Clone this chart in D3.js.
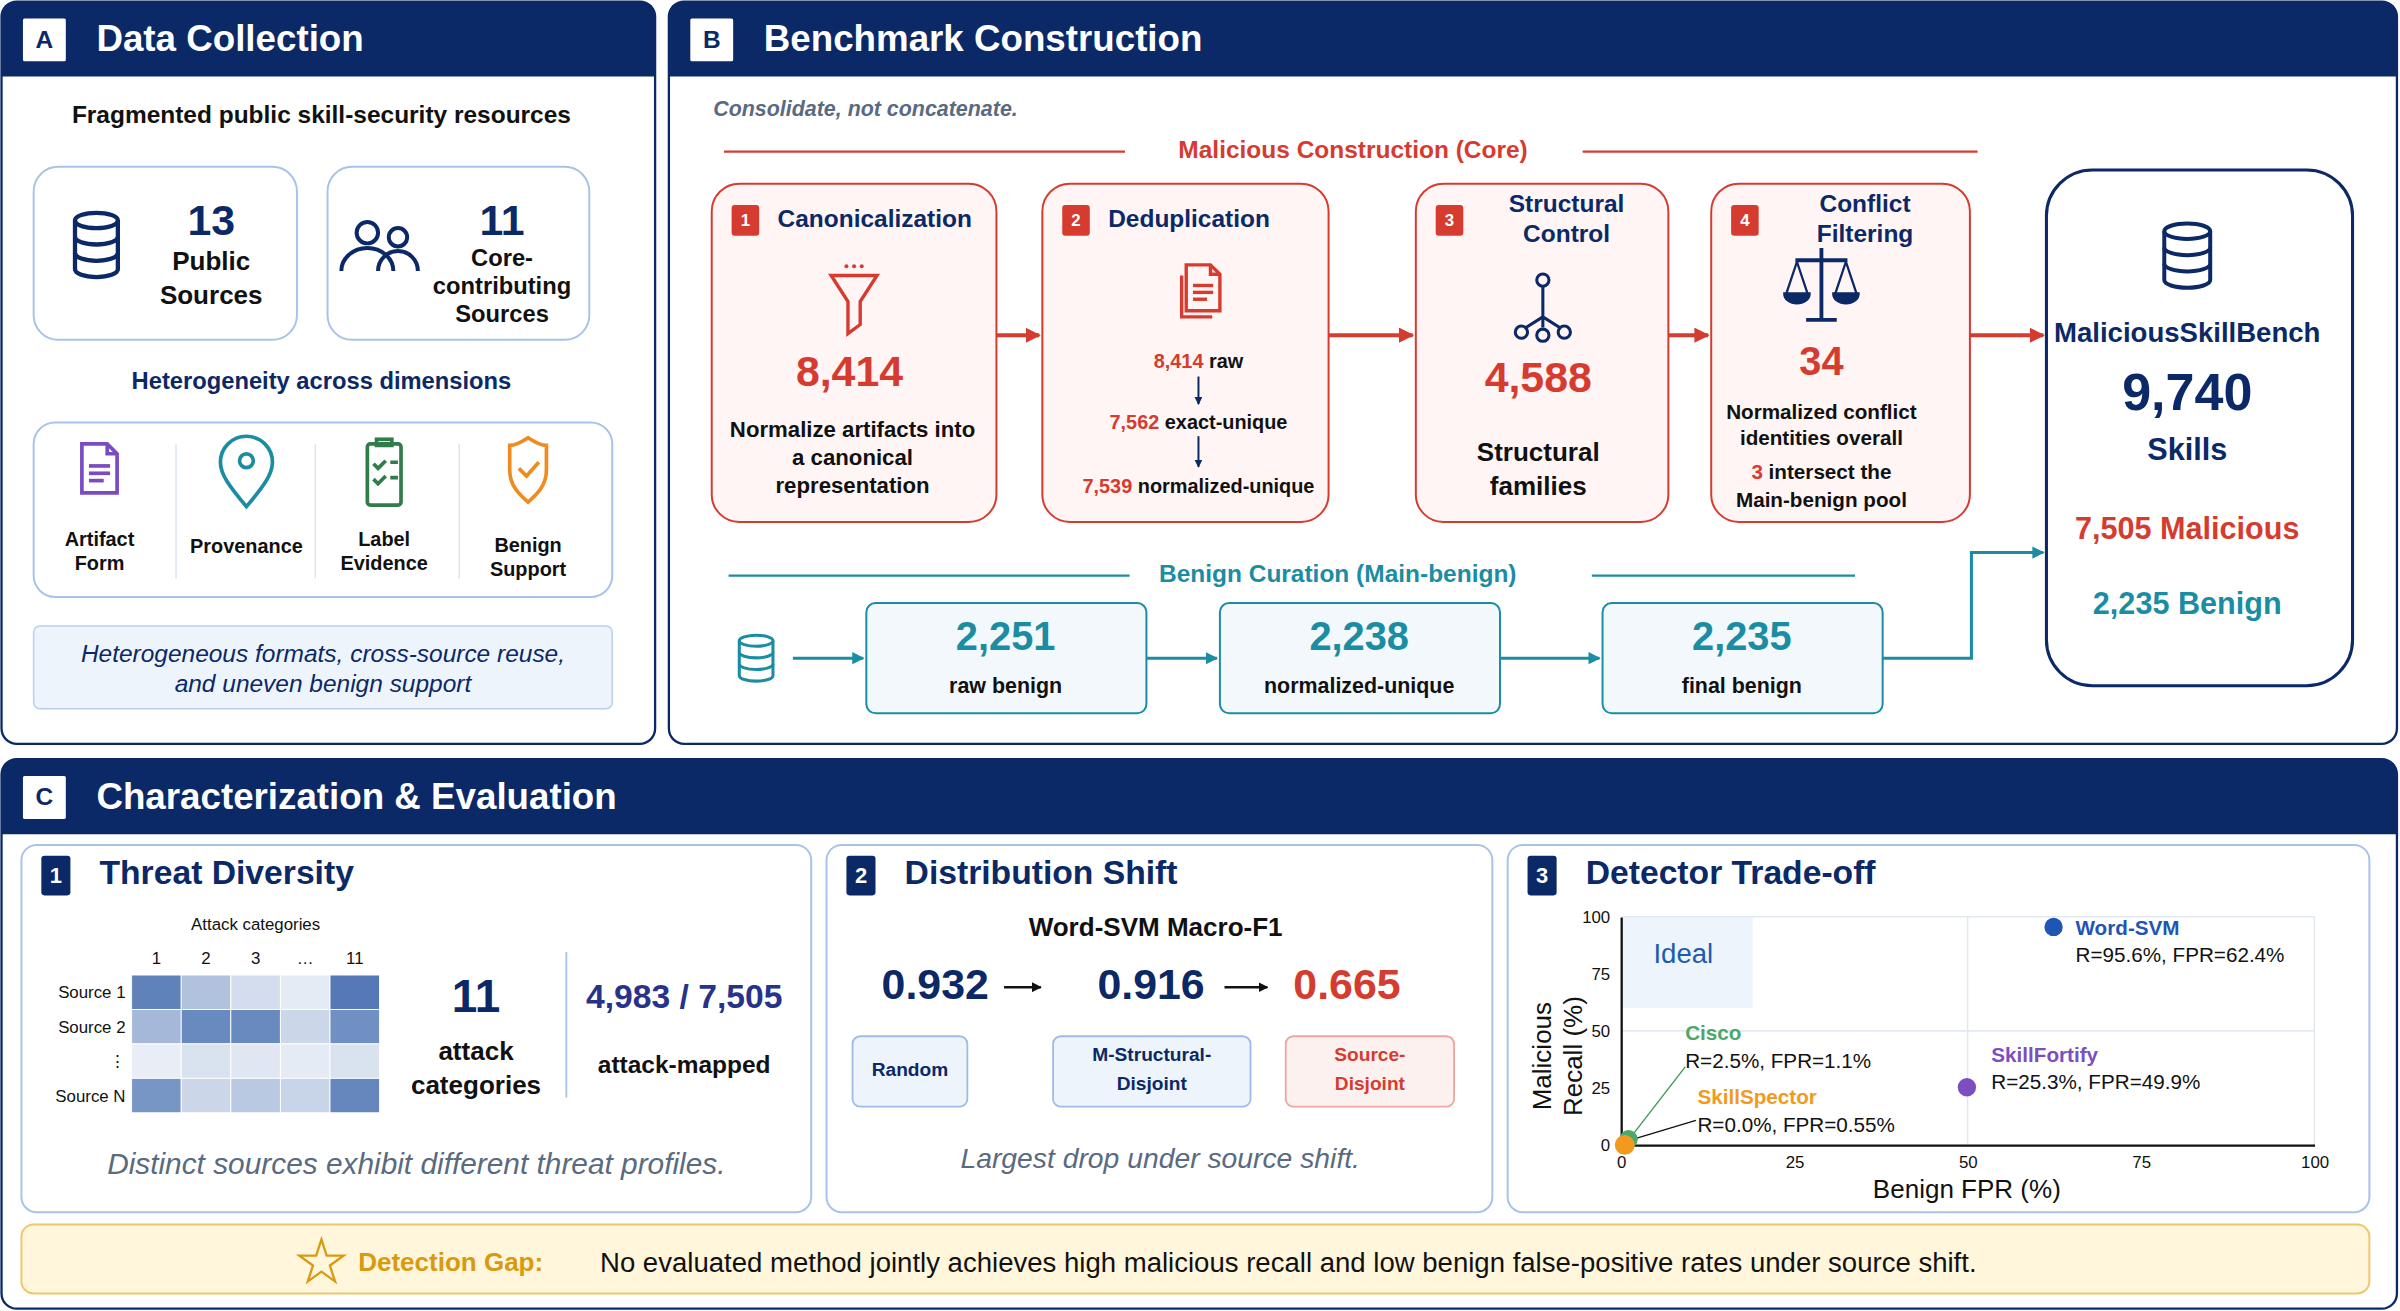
<!DOCTYPE html>
<html><head><meta charset="utf-8">
<script src="https://cdn.jsdelivr.net/npm/d3@7"></script>
<style>body{margin:0;background:#fff}text{font-family:"Liberation Sans",Arial,sans-serif}</style>
</head><body><div id="fig"></div>
<script>
// ---- data ----
var sourceStats = [{n: "13", l: ["Public", "Sources"]}, {n: "11", l: ["Core-", "contributing", "Sources"]}];
var dimensions = [["Artifact", "Form"], ["Provenance"], ["Label", "Evidence"], ["Benign", "Support"]];
var stepTitles = [["Canonicalization"], ["Deduplication"], ["Structural", "Control"], ["Conflict", "Filtering"]];
var dedupCounts = [["8,414", " raw"], ["7,562", " exact-unique"], ["7,539", " normalized-unique"]];
var benignCounts = ["2,251", "2,238", "2,235"];
var benignLabels = ["raw benign", "normalized-unique", "final benign"];
var heatCols = ["1", "2", "3", "…", "11"];
var heatRows = ["Source 1", "Source 2", "⋮", "Source N"];
var heatValues = [[0.82, 0.35, 0.15, 0.05, 0.88], [0.42, 0.76, 0.76, 0.2, 0.72], [0.03, 0.12, 0.08, 0.05, 0.12], [0.68, 0.2, 0.3, 0.22, 0.78]];
var splitNames = [["Random"], ["M-Structural-", "Disjoint"], ["Source-", "Disjoint"]];
var splitF1 = [0.932, 0.916, 0.665];
var detectors = ["Word-SVM", "SkillFortify", "Cisco", "SkillSpector"];
var detRecall = [95.6, 25.3, 2.5, 0.0];
var detFPR = [62.4, 49.9, 1.1, 0.55];
var detLabelFPR = ["62.4%", "49.9%", "1.1%", "0.55%"];
var axisTicks = [0, 25, 50, 75, 100];

var NAVY = "#0b2867", RED = "#d63b2f", TEAL = "#1a8da3", LBLUE = "#a9c3e8";

var svg = d3.select("#fig").append("svg")
  .attr("width", 2400).attr("height", 1311)
  .attr("viewBox", "0 0 1568 856.5");

var defs = svg.append("defs");
[["aRed", RED], ["aTeal", TEAL], ["aNavy", NAVY], ["aBlack", "#111"]].forEach(function(m) {
  defs.append("marker").attr("id", m[0]).attr("viewBox", "0 0 10 10").attr("refX", 9).attr("refY", 5)
    .attr("markerWidth", 4).attr("markerHeight", 4).attr("orient", "auto")
    .append("path").attr("d", "M0,0L10,5L0,10z").attr("fill", m[1]);
});

function rect(g, x, y, w, h, r, fill, stroke, sw) {
  return g.append("rect").attr("x", x).attr("y", y).attr("width", w).attr("height", h).attr("rx", r)
    .attr("fill", fill).attr("stroke", stroke || "none").attr("stroke-width", sw || 1);
}
function txt(g, x, y, s, size, color, weight, anchor, style) {
  return g.append("text").attr("x", x).attr("y", y).text(s).attr("font-size", size).attr("fill", color)
    .attr("font-weight", weight || "bold").attr("text-anchor", anchor || "middle")
    .attr("font-style", style || "normal").attr("dominant-baseline", "middle");
}
function lines(g, x, y, arr, size, color, lh, weight, style) {
  arr.forEach(function(s, i) { txt(g, x, y + i * lh, s, size, color, weight, "middle", style); });
}
function arrow(g, pts, color, marker, w) {
  g.append("path").attr("d", d3.line()(pts)).attr("fill", "none").attr("stroke", color)
    .attr("stroke-width", w || 2.5).attr("marker-end", "url(#" + marker + ")");
}
function badge(g, x, y, w, h, s, fill) {
  rect(g, x, y, w, h, 2, fill);
  txt(g, x + w / 2, y + h / 2 + 1, s, h * 0.55, "#fff");
}
function panelHeader(x, y, w, h, letter, title) {
  var g = svg.append("g");
  rect(g, x, y, w, h, 10, "#fff", NAVY, 1.5);
  g.append("path").attr("d", "M" + x + "," + (y + 49) + "V" + (y + 10) + "q0,-10 10,-10H" + (x + w - 10) + "q10,0 10,10V" + (y + 49) + "z").attr("fill", NAVY);
  rect(g, x + 14, y + 11, 28, 28, 1, "#fff");
  txt(g, x + 28, y + 26, letter, 16, NAVY);
  txt(g, x + 62, y + 26, title, 24, "#fff", "bold", "start");
  return g;
}
// icons
function dbIcon(g, cx, cy, w, h, color, sw) {
  var rx = w / 2, ry = h * 0.12, t = cy - h / 2 + ry, b = cy + h / 2 - ry;
  var gi = g.append("g").attr("fill", "none").attr("stroke", color).attr("stroke-width", sw);
  gi.append("ellipse").attr("cx", cx).attr("cy", t).attr("rx", rx).attr("ry", ry);
  gi.append("path").attr("d", "M" + (cx - rx) + "," + t + "V" + b + "A" + rx + "," + ry + " 0 0 0 " + (cx + rx) + "," + b + "V" + t);
  [1, 2].forEach(function(k) {
    var yy = t + (b - t) * k / 3;
    gi.append("path").attr("d", "M" + (cx - rx) + "," + yy + "A" + rx + "," + ry + " 0 0 0 " + (cx + rx) + "," + yy);
  });
}
function peopleIcon(g, cx, cy, color) {
  var gi = g.append("g").attr("fill", "none").attr("stroke", color).attr("stroke-width", 2.6);
  gi.append("circle").attr("cx", cx - 10).attr("cy", cy - 12).attr("r", 7);
  gi.append("circle").attr("cx", cx + 10).attr("cy", cy - 9).attr("r", 6);
  gi.append("path").attr("d", "M" + (cx - 27) + "," + (cy + 13) + "a17,15 0 0 1 34,0");
  gi.append("path").attr("d", "M" + (cx - 3) + "," + (cy + 13) + "a13,13 0 0 1 26,0");
}
function docIcon(g, cx, cy, w, h, color, sw) {
  var x = cx - w / 2, y = cy - h / 2, f = w * 0.28;
  var gi = g.append("g").attr("fill", "none").attr("stroke", color).attr("stroke-width", sw);
  gi.append("path").attr("d", "M" + x + "," + y + "H" + (x + w - f) + "L" + (x + w) + "," + (y + f) + "V" + (y + h) + "H" + x + "Z");
  gi.append("path").attr("d", "M" + (x + w - f) + "," + y + "V" + (y + f) + "H" + (x + w));
  [0.45, 0.6, 0.75].forEach(function(k, i) {
    gi.append("line").attr("x1", x + w * 0.2).attr("x2", x + w * (i == 2 ? 0.62 : 0.8)).attr("y1", y + h * k).attr("y2", y + h * k);
  });
}

// ---------- Panel A ----------
var gA = panelHeader(1, 1, 427, 485, "A", "Data Collection");
txt(gA, 210, 76, "Fragmented public skill-security resources", 16, "#111");
[[22, 172], [214, 171]].forEach(function(b, i) {
  rect(gA, b[0], 109, b[1], 113, 16, "#fff", LBLUE, 1.3);
  var s = sourceStats[i];
  var cx = i == 0 ? 138 : 328;
  txt(gA, cx, 146, s.n, 28, NAVY);
  lines(gA, cx, i == 0 ? 172 : 170, s.l, i == 0 ? 17 : 15.5, "#111", i == 0 ? 22 : 18);
});
dbIcon(gA, 63, 160, 28, 42, NAVY, 2.8);
peopleIcon(gA, 250, 164, NAVY);
txt(gA, 210, 250, "Heterogeneity across dimensions", 15.5, NAVY);
rect(gA, 22, 276, 378, 114, 14, "#fff", LBLUE, 1.3);
[115, 206, 300].forEach(function(x) { gA.append("line").attr("x1", x).attr("x2", x).attr("y1", 290).attr("y2", 378).attr("stroke", "#dde6f2"); });
var dimX = [65, 161, 251, 345];
docIcon(gA, 65, 306, 23, 32, "#7b4bc4", 2.4);
// pin
gA.append("path").attr("d", "M161,331 C150,318 144,310 144,302 A17,17 0 0 1 178,302 C178,310 172,318 161,331Z")
  .attr("fill", "none").attr("stroke", TEAL).attr("stroke-width", 2.4);
gA.append("circle").attr("cx", 161).attr("cy", 301).attr("r", 4.5).attr("fill", "none").attr("stroke", TEAL).attr("stroke-width", 2.4);
// clipboard
var gc = gA.append("g").attr("fill", "none").attr("stroke", "#2e7d4a").attr("stroke-width", 2.4);
gc.append("rect").attr("x", 240).attr("y", 290).attr("width", 22).attr("height", 40).attr("rx", 2);
gc.append("rect").attr("x", 246).attr("y", 287).attr("width", 10).attr("height", 4);
gc.append("path").attr("d", "M244,303l3,3l5,-5M255,302h5M244,313l3,3l5,-5M255,312h5");
// shield
gA.append("path").attr("d", "M345,286 C339,290 335,291 333,291 V307 C333,317 339,323 345,328 C351,323 357,317 357,307 V291 C355,291 351,290 345,286 Z")
  .attr("fill", "none").attr("stroke", "#ef8c1f").attr("stroke-width", 2.4);
gA.append("path").attr("d", "M339,306l5,5l8,-9").attr("fill", "none").attr("stroke", "#ef8c1f").attr("stroke-width", 2.4);
dimensions.forEach(function(d, i) {
  var y0 = d.length == 1 ? 358 : [353, 353, 353, 357][i];
  lines(gA, dimX[i], y0, d, 13, "#111", 16);
});
rect(gA, 22, 409, 378, 54, 4, "#eef4fc", "#b8d0ee", 1);
lines(gA, 211, 428, ["Heterogeneous formats, cross-source reuse,", "and uneven benign support"], 16, NAVY, 20, "normal", "italic");

// ---------- Panel B ----------
var gB = panelHeader(437, 1, 1129, 485, "B", "Benchmark Construction");
txt(gB, 466, 72, "Consolidate, not concatenate.", 14, "#5a6a80", "bold", "start", "italic");
gB.append("path").attr("d", "M473,99H735M1034,99H1292").attr("stroke", RED).attr("stroke-width", 1.5);
txt(gB, 884, 99, "Malicious Construction (Core)", 16, RED);

var stepX = d3.scaleOrdinal().domain([0, 1, 2, 3]).range([465, 681, 925, 1118]);
var stepW = [186, 187, 165, 169];
stepW.forEach(function(w, i) {
  var x = stepX(i);
  rect(gB, x, 120, w, 221, 18, "#fff5f4", RED, 1.3);
  badge(gB, x + 13, 134, 18, 20, String(i + 1), RED);
  var t = stepTitles[i];
  if (t.length == 1) txt(gB, x + 43, 144, t[0], 16, NAVY, "bold", "start");
  else lines(gB, x + w / 2 + 16, 134, t, 16, NAVY, 20);
});
// step 1
var f = gB.append("g").attr("fill", "none").attr("stroke", RED).attr("stroke-width", 2.2);
f.append("path").attr("d", "M543,180 H573 L562,197 V212 L554,218 V197 Z");
[553, 558, 563].forEach(function(x) { gB.append("circle").attr("cx", x).attr("cy", 174).attr("r", 1.3).attr("fill", RED); });
txt(gB, 555, 245, "8,414", 28, RED);
lines(gB, 557, 282, ["Normalize artifacts into", "a canonical", "representation"], 14.5, "#111", 18);
// step 2
docIcon(gB, 786, 188, 22, 30, RED, 2.2);
gB.append("path").attr("d", "M772,180 V207 H792").attr("fill", "none").attr("stroke", RED).attr("stroke-width", 2.2);
dedupCounts.forEach(function(d, i) {
  var t = gB.append("text").attr("x", 783).attr("y", [237, 277, 319][i]).attr("text-anchor", "middle")
    .attr("dominant-baseline", "middle").attr("font-size", 13).attr("font-weight", "bold");
  t.append("tspan").attr("fill", RED).text(d[0]);
  t.append("tspan").attr("fill", "#111").text(d[1]);
});
arrow(gB, [[783, 246], [783, 264]], NAVY, "aNavy", 1.3);
arrow(gB, [[783, 285], [783, 305]], NAVY, "aNavy", 1.3);
// step 3 network
var nw = gB.append("g").attr("fill", "none").attr("stroke", NAVY).attr("stroke-width", 2);
nw.append("circle").attr("cx", 1008).attr("cy", 183).attr("r", 4);
nw.append("path").attr("d", "M1008,187V207M1008,207L997,214M1008,207L1019,214M1008,207V214");
nw.append("circle").attr("cx", 994).attr("cy", 217).attr("r", 4);
nw.append("circle").attr("cx", 1022).attr("cy", 217).attr("r", 4);
nw.append("circle").attr("cx", 1008).attr("cy", 219).attr("r", 4);
txt(gB, 1005, 249, "4,588", 28, RED);
lines(gB, 1005, 297, ["Structural", "families"], 17, "#111", 22);
// step 4 scales
var sc = gB.append("g").attr("fill", NAVY).attr("stroke", NAVY).attr("stroke-width", 2);
sc.append("path").attr("d", "M1190,162V208M1180,209H1200M1173,170H1207").attr("fill", "none").attr("stroke-width", 2.5);
sc.append("path").attr("d", "M1166,192h16a8,6 0 0 1 -16,0z M1198,192h16a8,6 0 0 1 -16,0z");
sc.append("path").attr("d", "M1174,171L1167,192M1174,171L1181,192M1206,171L1199,192M1206,171L1213,192").attr("fill", "none").attr("stroke-width", 1.5);
txt(gB, 1190, 238, "34", 26, RED);
lines(gB, 1190, 270, ["Normalized conflict", "identities overall"], 13.5, "#111", 17);
var t3 = gB.append("text").attr("x", 1190).attr("y", 310).attr("text-anchor", "middle").attr("dominant-baseline", "middle").attr("font-size", 13.5).attr("font-weight", "bold");
t3.append("tspan").attr("fill", RED).text("3");
t3.append("tspan").attr("fill", "#111").text(" intersect the");
txt(gB, 1190, 328, "Main-benign pool", 13.5, "#111");
arrow(gB, [[651, 219], [679, 219]], RED, "aRed");
arrow(gB, [[868, 219], [923, 219]], RED, "aRed");
arrow(gB, [[1090, 219], [1116, 219]], RED, "aRed");
arrow(gB, [[1287, 219], [1335, 219]], RED, "aRed");
// result box
rect(gB, 1337, 111, 200, 337, 30, "#fff", NAVY, 2);
dbIcon(gB, 1429, 167, 30, 42, NAVY, 2.6);
txt(gB, 1429, 219, "MaliciousSkillBench", 18, NAVY);
txt(gB, 1429, 259, "9,740", 34, NAVY);
txt(gB, 1429, 295, "Skills", 20, NAVY);
txt(gB, 1429, 347, "7,505 Malicious", 20, RED);
txt(gB, 1429, 396, "2,235 Benign", 20, TEAL);
// benign curation
gB.append("path").attr("d", "M476,376H738M1040,376H1212").attr("stroke", TEAL).attr("stroke-width", 1.5);
txt(gB, 874, 376, "Benign Curation (Main-benign)", 16, TEAL);
dbIcon(gB, 494, 430, 22, 30, TEAL, 2);
var bx = d3.scaleOrdinal().domain([0, 1, 2]).range([566, 797, 1047]);
benignCounts.forEach(function(v, i) {
  rect(gB, bx(i), 394, 183, 72, 6, "#f2f8fb", TEAL, 1.3);
  txt(gB, bx(i) + 91, 418, v, 26, TEAL);
  txt(gB, bx(i) + 91, 449, benignLabels[i], 14, "#111");
});
arrow(gB, [[518, 430], [564, 430]], TEAL, "aTeal", 2);
arrow(gB, [[749, 430], [795, 430]], TEAL, "aTeal", 2);
arrow(gB, [[980, 430], [1045, 430]], TEAL, "aTeal", 2);
arrow(gB, [[1230, 430], [1288, 430], [1288, 361], [1335, 361]], TEAL, "aTeal", 2);

// ---------- Panel C ----------
var gC = panelHeader(1, 496, 1565, 359, "C", "Characterization & Evaluation");
function sub(x, w, n, title) {
  rect(gC, x, 552, w, 240, 10, "#fff", LBLUE, 1.3);
  badge(gC, x + 13, 559, 19, 26, n, NAVY);
  txt(gC, x + 51, 572, title, 22, NAVY, "bold", "start");
}
sub(14, 516, "1", "Threat Diversity");
sub(540, 435, "2", "Distribution Shift");
sub(985, 563, "3", "Detector Trade-off");

// heatmap
var hx = d3.scaleBand().domain(heatCols).range([86, 248]);
var hy = d3.scaleBand().domain(heatRows).range([637, 727]);
var hc = d3.scaleLinear().domain([0, 1]).range(["#eef2f8", "#3f69ad"]);
txt(gC, 167, 605, "Attack categories", 11, "#111", "normal");
heatCols.forEach(function(c) { txt(gC, hx(c) + hx.bandwidth() / 2, 627, c, 11, "#111", "normal"); });
heatRows.forEach(function(r, i) {
  txt(gC, 82, hy(r) + hy.bandwidth() / 2 + 1, r, 11, "#111", "normal", "end");
  heatValues[i].forEach(function(v, j) {
    gC.append("rect").attr("x", hx(heatCols[j])).attr("y", hy(r)).attr("width", hx.bandwidth()).attr("height", hy.bandwidth())
      .attr("fill", hc(v)).attr("stroke", "#fff").attr("stroke-width", 0.6);
  });
});
txt(gC, 311, 653, "11", 30, NAVY);
lines(gC, 311, 688, ["attack", "categories"], 17, "#111", 22);
gC.append("line").attr("x1", 370).attr("x2", 370).attr("y1", 622).attr("y2", 717).attr("stroke", LBLUE).attr("stroke-width", 1.2);
txt(gC, 447, 653, "4,983 / 7,505", 22, "#27338a");
txt(gC, 447, 697, "attack-mapped", 16, "#111");
txt(gC, 272, 762, "Distinct sources exhibit different threat profiles.", 19.5, "#5a6a80", "normal", "middle", "italic");

// distribution shift
txt(gC, 755, 607, "Word-SVM Macro-F1", 17, "#111");
var sx = [611, 752, 880], sbox = [[557, 75], [688, 129], [840, 110]];
splitF1.forEach(function(v, i) {
  txt(gC, sx[i], 645, d3.format(".3f")(v), 28, i == 2 ? RED : NAVY);
  var b = sbox[i];
  rect(gC, b[0], 677, b[1], 46, 5, i == 2 ? "#fdf1ef" : "#eef4fc", i == 2 ? "#eda79f" : "#9dbde6", 1.2);
  lines(gC, b[0] + b[1] / 2, splitNames[i].length == 1 ? 700 : 690, splitNames[i], 12.5, i == 2 ? RED : NAVY, 19);
});
arrow(gC, [[656, 645], [680, 645]], "#111", "aBlack", 1.6);
arrow(gC, [[800, 645], [828, 645]], "#111", "aBlack", 1.6);
txt(gC, 758, 758, "Largest drop under source shift.", 18.5, "#5a6a80", "normal", "middle", "italic");

// scatter
var xS = d3.scaleLinear().domain([0, 100]).range([1059, 1512]);
var yS = d3.scaleLinear().domain([0, 100]).range([748, 599]);
var gp = gC.append("g");
gp.append("rect").attr("x", xS(0)).attr("y", yS(100)).attr("width", xS(19) - xS(0)).attr("height", yS(60) - yS(100)).attr("fill", "#eef4fc");
txt(gp, xS(9), yS(83), "Ideal", 18, "#1e5bb0", "normal");
gp.append("path").attr("d", "M" + xS(50) + "," + yS(0) + "V" + yS(100) + "M" + xS(0) + "," + yS(50) + "H" + xS(100) + "M" + xS(0) + "," + yS(100) + "H" + xS(100) + "V" + yS(0))
  .attr("stroke", "#e3e9f2").attr("fill", "none");
var xAx = gp.append("g").attr("transform", "translate(0," + yS(0) + ")").call(d3.axisBottom(xS).tickValues(axisTicks).tickSize(0).tickPadding(7));
var yAx = gp.append("g").attr("transform", "translate(" + xS(0) + ",0)").call(d3.axisLeft(yS).tickValues(axisTicks).tickSize(0).tickPadding(7));
[xAx, yAx].forEach(function(a) {
  a.select(".domain").attr("stroke", "#111").attr("stroke-width", 1.5);
  a.selectAll("text").attr("font-size", 11).attr("fill", "#111").attr("font-family", "Liberation Sans, Arial");
});
txt(gp, 1285, 778, "Benign FPR (%)", 17, "#111", "normal");
var yt = gp.append("g").attr("transform", "translate(1020,690) rotate(-90)");
txt(yt, 0, -11, "Malicious", 17, "#111", "normal");
txt(yt, 0, 9, "Recall (%)", 17, "#111", "normal");
var detColor = ["#1f55b5", "#7b4fc0", "#4aa86a", "#f29a1f"];
var labPos = [[1356, 607], [1301, 690], [1101, 676], [1109, 718]];
// leader lines
gp.append("line").attr("x1", 1101).attr("y1", 697).attr("x2", xS(1.1) + 2).attr("y2", yS(2.5) - 2).attr("stroke", "#3a9a5a").attr("stroke-width", 0.9);
gp.append("line").attr("x1", 1108).attr("y1", 732).attr("x2", xS(0.55) + 3).attr("y2", yS(0) - 3).attr("stroke", "#111").attr("stroke-width", 0.9);
detectors.forEach(function(d, i) {
  gp.append("circle").attr("cx", xS(detFPR[i])).attr("cy", yS(detRecall[i])).attr("r", i == 3 ? 6.5 : 6).attr("fill", detColor[i]);
  txt(gp, labPos[i][0], labPos[i][1], d, 13.5, detColor[i], "bold", "start");
  txt(gp, labPos[i][0], labPos[i][1] + 18, "R=" + d3.format(".1f")(detRecall[i]) + "%, FPR=" + detLabelFPR[i], 13.5, "#111", "normal", "start");
});

// detection gap
rect(gC, 14, 800, 1534, 45, 8, "#fff6dc", "#f0c66b", 1.3);
var star = d3.symbol().type(d3.symbolStar).size(260)();
gC.append("path").attr("d", star).attr("transform", "translate(210,825)").attr("fill", "none").attr("stroke", "#d99a10").attr("stroke-width", 1.5);
txt(gC, 234, 826, "Detection Gap:", 17, "#d99a10", "bold", "start");
txt(gC, 392, 826, "No evaluated method jointly achieves high malicious recall and low benign false-positive rates under source shift.", 18, "#111", "normal", "start");
</script></body></html>
